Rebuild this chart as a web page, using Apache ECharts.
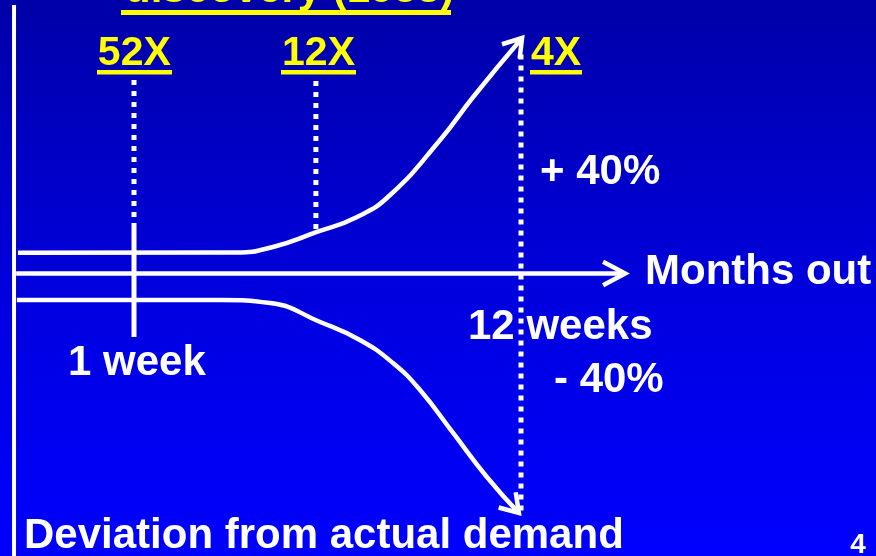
<!DOCTYPE html>
<html>
<head>
<meta charset="utf-8">
<script src="https://cdn.jsdelivr.net/npm/echarts@6/dist/echarts.min.js"></script>
<style>
html,body{margin:0;padding:0;width:876px;height:556px;overflow:hidden;}
#chart{width:876px;height:556px;}
</style>
</head>
<body>
<div id="chart"></div>
<script>
// x = weeks out, y = deviation from actual demand (%)
const upperWeeks = [-2.30, 3.90, 4.95, 6.20, 7.34, 8.28, 9.70, 10.64, 12.03];
const upperDev   = [3.47, 3.50, 4.42, 6.92, 9.42, 13.08, 22.25, 29.42, 39.25];
const lowerWeeks = [-2.33, 3.50, 4.87, 6.29, 7.42, 8.36, 9.13, 10.07, 11.03, 11.94];
const lowerDev   = [-4.42, -4.42, -4.92, -8.08, -11.08, -14.92, -19.42, -26.58, -33.92, -39.92];
const axisWeeks  = [-2.35, 14.96];
const axisDev    = [0, 0];
const leftAxisWeek = -2.41;
const leftAxisDev  = [44.75, -47.08];
const markerWeeks  = [1, 6.17, 12.0];
const markerLabels = ['52X', '12X', '4X'];
const markerTop    = [32.25, 32.08, 36.5];
const markerBottom = [9.25, 7.25, -39.92];
const weekSolid    = [8.42, -10.58];   // solid part of the 1-week line
const titleText = 'discovery (1958)';

const zip = (a, b) => a.map((v, i) => [v, b[i]]);
const FONT = '"Liberation Sans", Arial, sans-serif';
const WHITE = '#FFFFFF';
const YELLOW = '#FFFF00';

const chart = echarts.init(document.getElementById('chart'), null, {renderer: 'canvas'});

const series = [];
const lineCommon = {type: 'line', showSymbol: false, symbol: 'none', silent: true, animation: false};
series.push(Object.assign({}, lineCommon, {
  data: zip(upperWeeks, upperDev), smooth: 0.5,
  lineStyle: {color: WHITE, width: 4.5}
}));
series.push(Object.assign({}, lineCommon, {
  data: zip(lowerWeeks, lowerDev), smooth: 0.5,
  lineStyle: {color: WHITE, width: 4.5}
}));
series.push(Object.assign({}, lineCommon, {
  data: zip(axisWeeks, axisDev), lineStyle: {color: WHITE, width: 4.5}
}));
series.push(Object.assign({}, lineCommon, {
  data: [[leftAxisWeek, leftAxisDev[0]], [leftAxisWeek, leftAxisDev[1]]],
  lineStyle: {color: WHITE, width: 4}
}));
markerWeeks.forEach((w, i) => {
  series.push(Object.assign({}, lineCommon, {
    data: [[w, markerTop[i]], [w, markerBottom[i]]],
    lineStyle: {color: WHITE, width: 5, type: [5, 6], cap: 'butt'}
  }));
});
series.push(Object.assign({}, lineCommon, {
  data: [[markerWeeks[0], weekSolid[0]], [markerWeeks[0], weekSolid[1]]],
  lineStyle: {color: WHITE, width: 5}
}));

// arrowheads: [tipX, tipY, prevX, prevY, armLength, halfAngleDeg]
const nU = upperWeeks.length, nL = lowerWeeks.length;
const arrowData = [
  [upperWeeks[nU-1], upperDev[nU-1], upperWeeks[nU-2], upperDev[nU-2], 21, 33],
  [lowerWeeks[nL-1], lowerDev[nL-1], lowerWeeks[nL-2], lowerDev[nL-2], 21, 33],
  [axisWeeks[1], axisDev[1], axisWeeks[0], axisDev[0], 25, 28]
];
series.push({
  type: 'custom', silent: true, animation: false, clip: false,
  data: arrowData,
  renderItem: function (params, api) {
    const tip = api.coord([api.value(0), api.value(1)]);
    const prev = api.coord([api.value(2), api.value(3)]);
    const L = api.value(4), th = api.value(5) * Math.PI / 180;
    const a = Math.atan2(tip[1] - prev[1], tip[0] - prev[0]);
    const p1 = [tip[0] - L * Math.cos(a - th), tip[1] - L * Math.sin(a - th)];
    const p2 = [tip[0] - L * Math.cos(a + th), tip[1] - L * Math.sin(a + th)];
    return {
      type: 'polyline',
      shape: {points: [p1, tip, p2]},
      style: {stroke: WHITE, lineWidth: 4.5, fill: null, lineJoin: 'miter', lineCap: 'butt'}
    };
  }
});

function txt(text, x, y, size, color, align) {
  return {
    type: 'text', z: 100, silent: true,
    style: {
      text: text, x: x, y: y, fill: color,
      font: 'bold ' + size + 'px ' + FONT,
      textAlign: align || 'left', textVerticalAlign: 'middle',
      align: align || 'left', verticalAlign: 'middle'
    }
  };
}
function bar(x1, x2, y1, y2, color) {
  return {type: 'rect', z: 100, silent: true, shape: {x: x1, y: y1, width: x2 - x1, height: y2 - y1}, style: {fill: color}};
}

const graphics = [
  txt(titleText, 125, -10, 42, YELLOW, 'left'),
  bar(121, 451, 10, 15, YELLOW),
  txt(markerLabels[0], 134.3, 54, 41, YELLOW, 'center'),
  bar(97, 172, 70, 74.5, YELLOW),
  txt(markerLabels[1], 318.5, 54, 41, YELLOW, 'center'),
  bar(281, 356, 70, 74.5, YELLOW),
  txt(markerLabels[2], 556, 54, 41, YELLOW, 'center'),
  bar(530, 582, 70, 74.5, YELLOW),
  txt('+ 40%', 540, 172, 42, WHITE, 'left'),
  txt('Months out', 645, 272, 42, WHITE, 'left'),
  txt('12 weeks', 468, 327, 42, WHITE, 'left'),
  txt('- 40%', 554, 380, 42, WHITE, 'left'),
  txt('1 week', 68, 363, 42, WHITE, 'left'),
  txt('Deviation from actual demand', 24, 536, 42, WHITE, 'left'),
  txt('4', 858, 545, 28, WHITE, 'center')
];

chart.setOption({
  animation: false,
  backgroundColor: {
    type: 'linear', x: 0, y: 0, x2: 0, y2: 1,
    colorStops: [
      {offset: 0, color: '#0000A8'},
      {offset: 0.55, color: '#0000E0'},
      {offset: 1, color: '#0000FF'}
    ]
  },
  grid: {left: 0, right: 0, top: 0, bottom: 0, containLabel: false},
  xAxis: {type: 'value', min: -2.8088, max: 22.090, show: false},
  yAxis: {type: 'value', min: -47.08, max: 45.58, show: false},
  graphic: graphics,
  series: series
});
</script>
</body>
</html>
